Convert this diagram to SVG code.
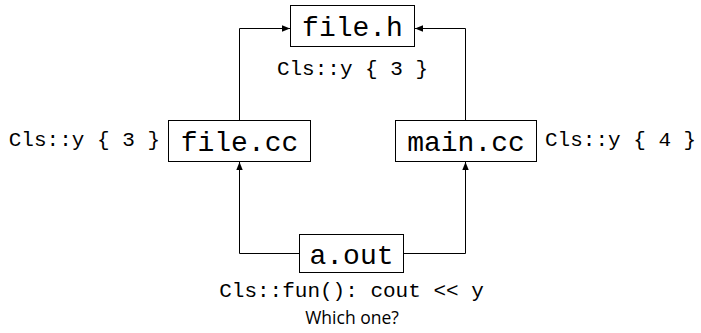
<svg xmlns="http://www.w3.org/2000/svg" width="701" height="333" viewBox="0 0 701 333">
  <style>
    .box { fill: #ffffff; stroke: #000000; stroke-width: 1; }
    .name { font-family: "Liberation Mono", "DejaVu Sans Mono", monospace; font-size: 28px; fill: #000; }
    .note { font-family: "Liberation Mono", "DejaVu Sans Mono", monospace; font-size: 21px; fill: #000; }
    .ask { font-family: "Open Sans", "Liberation Sans", sans-serif; font-size: 17.5px; fill: #000; }
    .wire { fill: none; stroke: #000; stroke-width: 1; }
  </style>
  <defs>
    <marker id="tip" viewBox="0 0 10 10" refX="10" refY="5" markerWidth="8" markerHeight="8" markerUnits="userSpaceOnUse" orient="auto">
      <path d="M0,1 L10,5 L0,9 Z" fill="#000"/>
    </marker>
  </defs>
  <rect width="701" height="333" fill="#ffffff"/>

  <g id="connectors">
    <path class="wire" d="M239.5,120 V28.5 H290" marker-end="url(#tip)"/>
    <path class="wire" d="M465.5,120 V28.5 H415" marker-end="url(#tip)"/>
    <path class="wire" d="M299,253.5 H239.5 V162" marker-end="url(#tip)"/>
    <path class="wire" d="M404,253.5 H465.5 V162" marker-end="url(#tip)"/>
  </g>

  <g id="file-h">
    <rect class="box" x="290.5" y="5.5" width="124" height="41"/>
    <text class="name" x="352.5" y="36" text-anchor="middle">file.h</text>
    <text class="note" x="352.5" y="75" text-anchor="middle">Cls::y { 3 }</text>
  </g>

  <g id="file-cc">
    <rect class="box" x="168.5" y="120.5" width="142" height="41"/>
    <text class="name" x="239.5" y="151" text-anchor="middle">file.cc</text>
    <text class="note" x="160" y="146" text-anchor="end">Cls::y { 3 }</text>
  </g>

  <g id="main-cc">
    <rect class="box" x="395.5" y="120.5" width="141" height="41"/>
    <text class="name" x="466" y="151" text-anchor="middle">main.cc</text>
    <text class="note" x="545" y="146">Cls::y { 4 }</text>
  </g>

  <g id="a-out">
    <rect class="box" x="299.5" y="234.5" width="104" height="38"/>
    <text class="name" x="351.5" y="264" text-anchor="middle">a.out</text>
    <text class="note" x="351.5" y="297" text-anchor="middle">Cls::fun(): cout &lt;&lt; y</text>
  </g>

  <text class="ask" x="352" y="324" text-anchor="middle">Which one?</text>
</svg>
